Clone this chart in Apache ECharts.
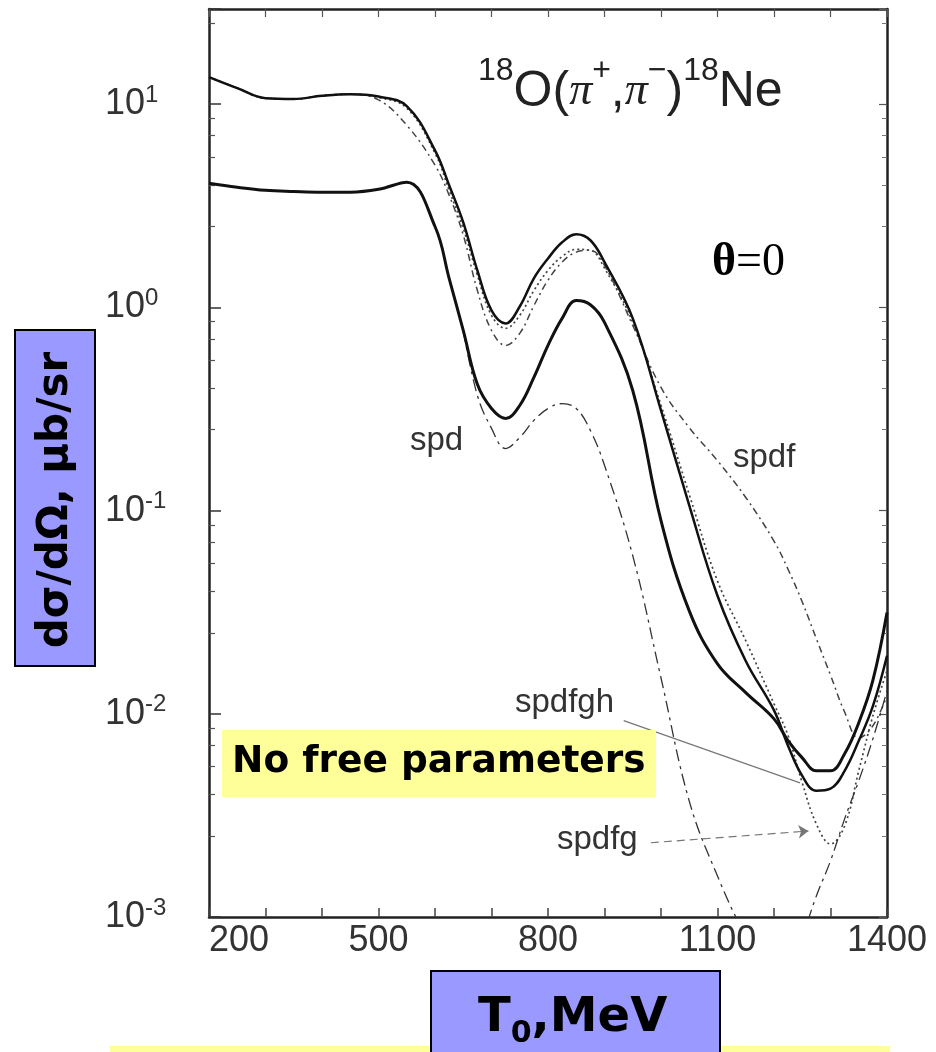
<!DOCTYPE html>
<html>
<head>
<meta charset="utf-8">
<script src="https://cdn.jsdelivr.net/npm/echarts@6/dist/echarts.min.js"></script>
<style>
  html, body { margin: 0; padding: 0; background: #fff; }
  #chart { width: 936px; height: 1052px; }
</style>
</head>
<body>
<div id="chart"></div>
<script>
const energies = [200, 250, 300, 350, 400, 450, 500, 550, 600, 625, 650, 675, 700, 725, 750, 775, 800, 825, 850, 875, 900,
  950, 1000, 1050, 1100, 1150, 1200, 1225, 1250, 1275, 1300, 1325, 1350, 1375, 1400];

// upper solid curve
const upperCurve = [13.6, 12.0, 10.7, 10.6, 11.0, 11.2, 10.9, 9.78, 5.93, 3.99, 2.62, 1.52, 0.966, 0.834, 1.01, 1.39, 1.74, 2.09, 2.29, 2.14, 1.67,
  0.883, 0.311, 0.106, 0.0381, 0.0182, 0.0104, 0.00695, 0.00495, 0.00418, 0.00428, 0.00524, 0.00736, 0.0109, 0.0193];

// lower thick curve
const lowerCurve = [4.08, 3.9, 3.77, 3.72, 3.69, 3.69, 3.81, 4.13, 2.5, 1.39, 0.771, 0.418, 0.318, 0.284, 0.329, 0.452, 0.65, 0.883, 1.08, 1.03, 0.843,
  0.39, 0.0893, 0.0321, 0.0176, 0.0127, 0.00944, 0.00736, 0.00607, 0.00524, 0.00524, 0.00636, 0.00903, 0.0146, 0.0315];

// spd (starts where it leaves the lower curve)
const spdEnergies = [650, 675, 700, 725, 750, 775, 800, 825, 850, 875, 900, 950, 1000, 1050, 1100, 1150, 1200, 1225, 1250, 1275, 1300, 1325, 1350, 1375, 1400];
const spdCurve = [0.771, 0.369, 0.254, 0.202, 0.229, 0.278, 0.318, 0.336, 0.318, 0.248, 0.167, 0.06, 0.015, 0.00372, 0.00159, 0.000805, 0.000484, 0.000574,
  0.000805, 0.00127, 0.00189, 0.00304, 0.00468, 0.00753, 0.013];

// spdf
const spdfCurve = [13.6, 12.0, 10.7, 10.6, 11.0, 11.2, 10.5, 7.88, 5.01, 3.56, 2.27, 1.21, 0.771, 0.65, 0.745, 1.02, 1.36, 1.67, 1.87, 1.91, 1.61,
  0.815, 0.404, 0.256, 0.176, 0.116, 0.0708, 0.0513, 0.0355, 0.0234, 0.0155, 0.0102, 0.0076, 0.00873, 0.0123];

// spdfg
const spdfgCurve = [13.6, 12.0, 10.7, 10.6, 11.0, 11.2, 10.8, 9.56, 5.74, 3.77, 2.45, 1.44, 0.914, 0.789, 0.914, 1.21, 1.52, 1.78, 1.93, 1.91, 1.56,
  0.843, 0.33, 0.12, 0.045, 0.0229, 0.0112, 0.00779, 0.00457, 0.00287, 0.00229, 0.00281, 0.00524, 0.00977, 0.0163];

const xTickLabels = [200, 500, 800, 1100, 1400];

// leader lines of the labels, in data units [T0, value]
const spdfghLeader = [[934, 0.00925], [1246, 0.00457]];
const spdfgLeader = [[982, 0.00232], [1261, 0.00265]];

function pairs(xs, ys) {
  return xs.map((x, i) => [x, ys[i]]);
}

const frame = { show: true, lineStyle: { color: '#222', width: 2.5 } };
const serif = '"Liberation Serif", "DejaVu Serif", serif';
const sans = '"Liberation Sans", Arial, sans-serif';
const comic = '"Comic Sans MS", "DejaVu Sans", sans-serif';

let chart = echarts.init(document.getElementById('chart'));

function curve(name, data, lineStyle, z) {
  return {
    name: name,
    type: 'line',
    data: data,
    smooth: 0.4,
    showSymbol: false,
    symbol: 'none',
    clip: true,
    z: z,
    lineStyle: lineStyle,
    emphasis: { disabled: true }
  };
}

const series = [
  curve('spdf', pairs(energies, spdfCurve), { color: '#444', width: 1.5, type: [7, 4, 2, 4] }, 2),
  curve('spdfg', pairs(energies, spdfgCurve), { color: '#444', width: 1.7, type: [2, 3] }, 2),
  curve('spd', pairs(spdEnergies, spdCurve), { color: '#333', width: 1.3, type: [12, 5, 3, 5] }, 2),
  curve('upper', pairs(energies, upperCurve), { color: '#111', width: 2.5 }, 3),
  curve('lower', pairs(energies, lowerCurve), { color: '#111', width: 3 }, 3)
];

// leader lines
series[0].markLine = {
  silent: true,
  animation: false,
  label: { show: false },
  symbol: ['none', 'none'],
  lineStyle: { color: '#777', width: 1.2, type: 'solid' },
  data: [[{ coord: spdfghLeader[0] }, { coord: spdfghLeader[1] }]]
};
series[1].markLine = {
  silent: true,
  animation: false,
  label: { show: false },
  symbol: ['none', 'arrow'],
  symbolSize: 10,
  lineStyle: { color: '#777', width: 1.2, type: [8, 5] },
  data: [[{ coord: spdfgLeader[0] }, { coord: spdfgLeader[1] }]]
};

chart.setOption({
  animation: false,
  backgroundColor: '#fff',
  grid: { left: 209, right: 49, top: 9, bottom: 135, containLabel: false, outerBoundsMode: 'none' },
  xAxis: [
    {
      type: 'value', min: 200, max: 1400, interval: 100, position: 'bottom',
      axisLine: frame,
      axisTick: { inside: true, length: 9, lineStyle: { color: '#444', width: 1.5 } },
      splitLine: { show: false },
      axisLabel: {
        fontSize: 36, color: '#333', fontFamily: sans, margin: 6,
        alignMinLabel: 'left',
        formatter: v => (xTickLabels.includes(v) ? String(v) : '')
      }
    },
    {
      type: 'value', min: 200, max: 1400, interval: 100, position: 'top',
      axisLine: frame,
      axisTick: { inside: true, length: 8, lineStyle: { color: '#555', width: 1.2 } },
      splitLine: { show: false },
      axisLabel: { show: false }
    }
  ],
  yAxis: [
    {
      type: 'log', logBase: 10, min: 0.001, max: 29.4, position: 'left',
      axisLine: frame,
      axisTick: { inside: true, length: 12, lineStyle: { color: '#333', width: 1.5 } },
      minorTick: { show: true, splitNumber: 6, length: 6, lineStyle: { color: '#555', width: 1.2 } },
      splitLine: { show: false },
      minorSplitLine: { show: false },
      axisLabel: {
        margin: 104, align: 'left', color: '#333',
        formatter: v => {
          const e = Math.log10(v);
          const r = Math.round(e);
          if (Math.abs(e - r) > 1e-6) return '';
          return '{b|10}{e|' + r + '}';
        },
        rich: {
          b: { fontSize: 36, fontFamily: sans, color: '#333', lineHeight: 42 },
          e: { fontSize: 24, fontFamily: sans, color: '#333', lineHeight: 24, verticalAlign: 'top' }
        }
      }
    },
    {
      type: 'log', logBase: 10, min: 0.001, max: 29.4, position: 'right',
      axisLine: frame,
      axisTick: { inside: true, length: 8, lineStyle: { color: '#555', width: 1.2 } },
      minorTick: { show: true, splitNumber: 6, length: 5, lineStyle: { color: '#777', width: 1 } },
      splitLine: { show: false },
      axisLabel: { show: false }
    }
  ],
  series: series,
  graphic: [
    // reaction title
    {
      type: 'text', x: 478, y: 92, z: 10,
      style: {
        text: '{s|18}{m|O(}{p|π}{s|+}{m|,}{p|π}{s|−}{m|)}{s|18}{m|Ne}',
        verticalAlign: 'middle', align: 'left',
        rich: {
          m: { fontSize: 50, fontFamily: sans, fill: '#222', lineHeight: 74 },
          p: { fontSize: 46, fontFamily: serif, fontStyle: 'italic', fill: '#222', lineHeight: 74 },
          s: { fontSize: 32, fontFamily: sans, fill: '#222', lineHeight: 32, verticalAlign: 'top' }
        }
      }
    },
    {
      type: 'text', x: 712, y: 263, z: 10,
      style: {
        text: '{t|θ}{n|=0}', verticalAlign: 'middle', align: 'left',
        rich: {
          t: { fontSize: 46, fontFamily: serif, fontWeight: 'bold', fill: '#000' },
          n: { fontSize: 46, fontFamily: serif, fill: '#000' }
        }
      }
    },
    // curve labels
    { type: 'text', x: 410, y: 441, z: 10, style: { text: 'spd', fontSize: 33, fontFamily: sans, fill: '#333', verticalAlign: 'middle' } },
    { type: 'text', x: 733, y: 458, z: 10, style: { text: 'spdf', fontSize: 33, fontFamily: sans, fill: '#333', verticalAlign: 'middle' } },
    { type: 'text', x: 515, y: 703, z: 10, style: { text: 'spdfgh', fontSize: 33, fontFamily: sans, fill: '#333', verticalAlign: 'middle' } },
    { type: 'text', x: 557, y: 840, z: 10, style: { text: 'spdfg', fontSize: 33, fontFamily: sans, fill: '#333', verticalAlign: 'middle' } },
    // note box
    { type: 'rect', z: 8, shape: { x: 222, y: 730, width: 434, height: 67 }, style: { fill: '#ffff99' } },
    {
      type: 'text', x: 232, y: 762, z: 9,
      style: { text: 'No free parameters', fontSize: 37.5, fontWeight: 'bold', fontFamily: comic, fill: '#000', verticalAlign: 'middle' }
    },
    // y axis title box
    { type: 'rect', z: 8, shape: { x: 15, y: 330, width: 80, height: 336 }, style: { fill: '#9999ff', stroke: '#000', lineWidth: 2 } },
    {
      type: 'text', x: 56, y: 500, rotation: Math.PI / 2, z: 9,
      style: { text: 'dσ/dΩ, μb/sr', fontSize: 42, fontWeight: 'bold', fontFamily: comic, fill: '#000', align: 'center', verticalAlign: 'middle' }
    },
    // bottom strip and x axis title box
    { type: 'rect', z: 7, shape: { x: 110, y: 1046, width: 780, height: 6 }, style: { fill: '#ffff99' } },
    { type: 'rect', z: 8, shape: { x: 431, y: 971, width: 289, height: 95 }, style: { fill: '#9999ff', stroke: '#000', lineWidth: 2 } },
    {
      type: 'text', x: 478, y: 1019, z: 9,
      style: {
        text: '{m|T}{s|0}{m|,MeV}', verticalAlign: 'middle', align: 'left',
        rich: {
          m: { fontSize: 48, fontWeight: 'bold', fontFamily: comic, fill: '#000', lineHeight: 60 },
          s: { fontSize: 30, fontWeight: 'bold', fontFamily: comic, fill: '#000', lineHeight: 30, verticalAlign: 'bottom' }
        }
      }
    }
  ]
});
</script>
</body>
</html>
